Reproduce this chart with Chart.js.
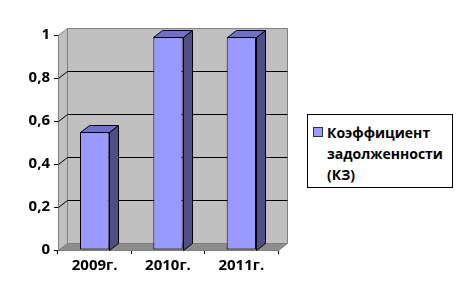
<!DOCTYPE html>
<html>
<head>
<meta charset="utf-8">
<script src="https://cdn.jsdelivr.net/npm/chart.js@4/dist/chart.umd.min.js"></script>
<style>
    body { margin: 0; background: #fff; }
    #wrap { position: relative; width: 464px; height: 307px; }
    #legend {
        position: absolute; left: 307px; top: 114px; width: 144px; height: 72px;
        border: 1px solid #000; background: #fff;
        font-family: "Open Sans", sans-serif; font-weight: bold; font-size: 14px; color: #000;
    }
    #legend .box {
        position: absolute; left: 5px; top: 12px; width: 8px; height: 8px;
        background: #9999FF; border: 1px solid #333;
    }
    #legend .txt {
        position: absolute; left: 19px; top: 7px; width: 122px; line-height: 21px;
    }
</style>
</head>
<body>
<div id="wrap">
    <canvas id="chart" width="464" height="307"></canvas>
    <div id="legend"><div class="box"></div><div class="txt"></div></div>
</div>
<script>
const categories = ['2009г.', '2010г.', '2011г.'];
const seriesLabel = 'Коэффициент задолженности (КЗ)';
const seriesValues = [0.55, 0.99, 0.99];
const yTickLabels = ['0', '0,2', '0,4', '0,6', '0,8', '1'];

const dx = 9, dy = -7;

function poly(ctx, pts, fill, stroke) {
    ctx.beginPath();
    ctx.moveTo(pts[0][0], pts[0][1]);
    for (let i = 1; i < pts.length; i++) {
        ctx.lineTo(pts[i][0], pts[i][1]);
    }
    ctx.closePath();
    if (fill) {
        ctx.fillStyle = fill;
        ctx.fill();
    }
    if (stroke) {
        ctx.strokeStyle = stroke;
        ctx.lineWidth = 1;
        ctx.stroke();
    }
}

const box3d = {
    id: 'box3d',
    beforeDatasetsDraw(chart) {
        let ctx = chart.ctx;
        let a = chart.chartArea;
        let y = chart.scales.y;
        let L = a.left + 0.5, R = a.right + 0.5, T = a.top + 0.5, B = a.bottom + 0.5;
        ctx.save();
        // back wall
        poly(ctx, [[L + dx, T + dy], [R + dx, T + dy], [R + dx, B + dy], [L + dx, B + dy]], '#C0C0C0', '#808080');
        // side wall
        poly(ctx, [[L, T], [L + dx, T + dy], [L + dx, B + dy], [L, B]], '#C0C0C0', '#808080');
        // floor
        poly(ctx, [[L, B], [L + dx, B + dy], [R + dx, B + dy], [R, B]], '#8C8C8C', '#808080');
        // grid lines
        ctx.strokeStyle = '#000';
        ctx.lineWidth = 1;
        y.ticks.forEach(t => {
            if (t.value <= y.min || t.value >= y.max) return;
            let py = Math.round(y.getPixelForValue(t.value)) + 0.5;
            ctx.beginPath();
            ctx.moveTo(L, py);
            ctx.lineTo(L + dx, py + dy);
            ctx.lineTo(R + dx, py + dy);
            ctx.stroke();
        });
        ctx.restore();
    },
    afterDatasetsDraw(chart) {
        let ctx = chart.ctx;
        ctx.save();
        chart.getDatasetMeta(0).data.forEach(bar => {
            let l = Math.round(bar.x - bar.width / 2) + 0.5;
            let r = Math.round(bar.x + bar.width / 2) + 0.5;
            let top = Math.round(bar.y) + 0.5;
            let base = Math.round(bar.base) + 0.5;
            poly(ctx, [[r, top], [r + dx, top + dy], [r + dx, base + dy], [r, base]], '#4F4F85', '#000');
            poly(ctx, [[l, top], [l + dx, top + dy], [r + dx, top + dy], [r, top]], '#7070C8', '#000');
        });
        ctx.restore();
    }
};

const font = { family: '"Open Sans", sans-serif', weight: 'bold', size: 15 };

new Chart(document.getElementById('chart').getContext('2d'), {
    type: 'bar',
    data: {
        labels: categories,
        datasets: [{
            label: seriesLabel,
            data: seriesValues,
            backgroundColor: '#9999FF',
            borderColor: '#000',
            borderWidth: 1,
            borderSkipped: false,
            categoryPercentage: 0.8,
            barPercentage: 0.5
        }]
    },
    options: {
        responsive: false,
        devicePixelRatio: 1,
        animation: false,
        layout: { padding: { left: 0, top: 35, right: 186, bottom: 0 } },
        plugins: { legend: { display: false }, tooltip: { enabled: false } },
        scales: {
            x: {
                afterFit: s => { s.height = 57; },
                grid: { drawOnChartArea: false, tickLength: 4, color: '#000', offset: true },
                border: { color: '#000' },
                ticks: { font: font, color: '#000', padding: 3 }
            },
            y: {
                min: 0,
                max: 1,
                afterFit: s => { s.width = 58; },
                grid: { drawOnChartArea: false, tickLength: 4, color: '#000' },
                border: { color: '#000' },
                ticks: {
                    stepSize: 0.2,
                    font: font,
                    color: '#000',
                    padding: 4,
                    callback: (v, i) => yTickLabels[i]
                }
            }
        }
    },
    plugins: [box3d]
});

document.querySelector('#legend .txt').textContent = seriesLabel;
</script>
</body>
</html>
